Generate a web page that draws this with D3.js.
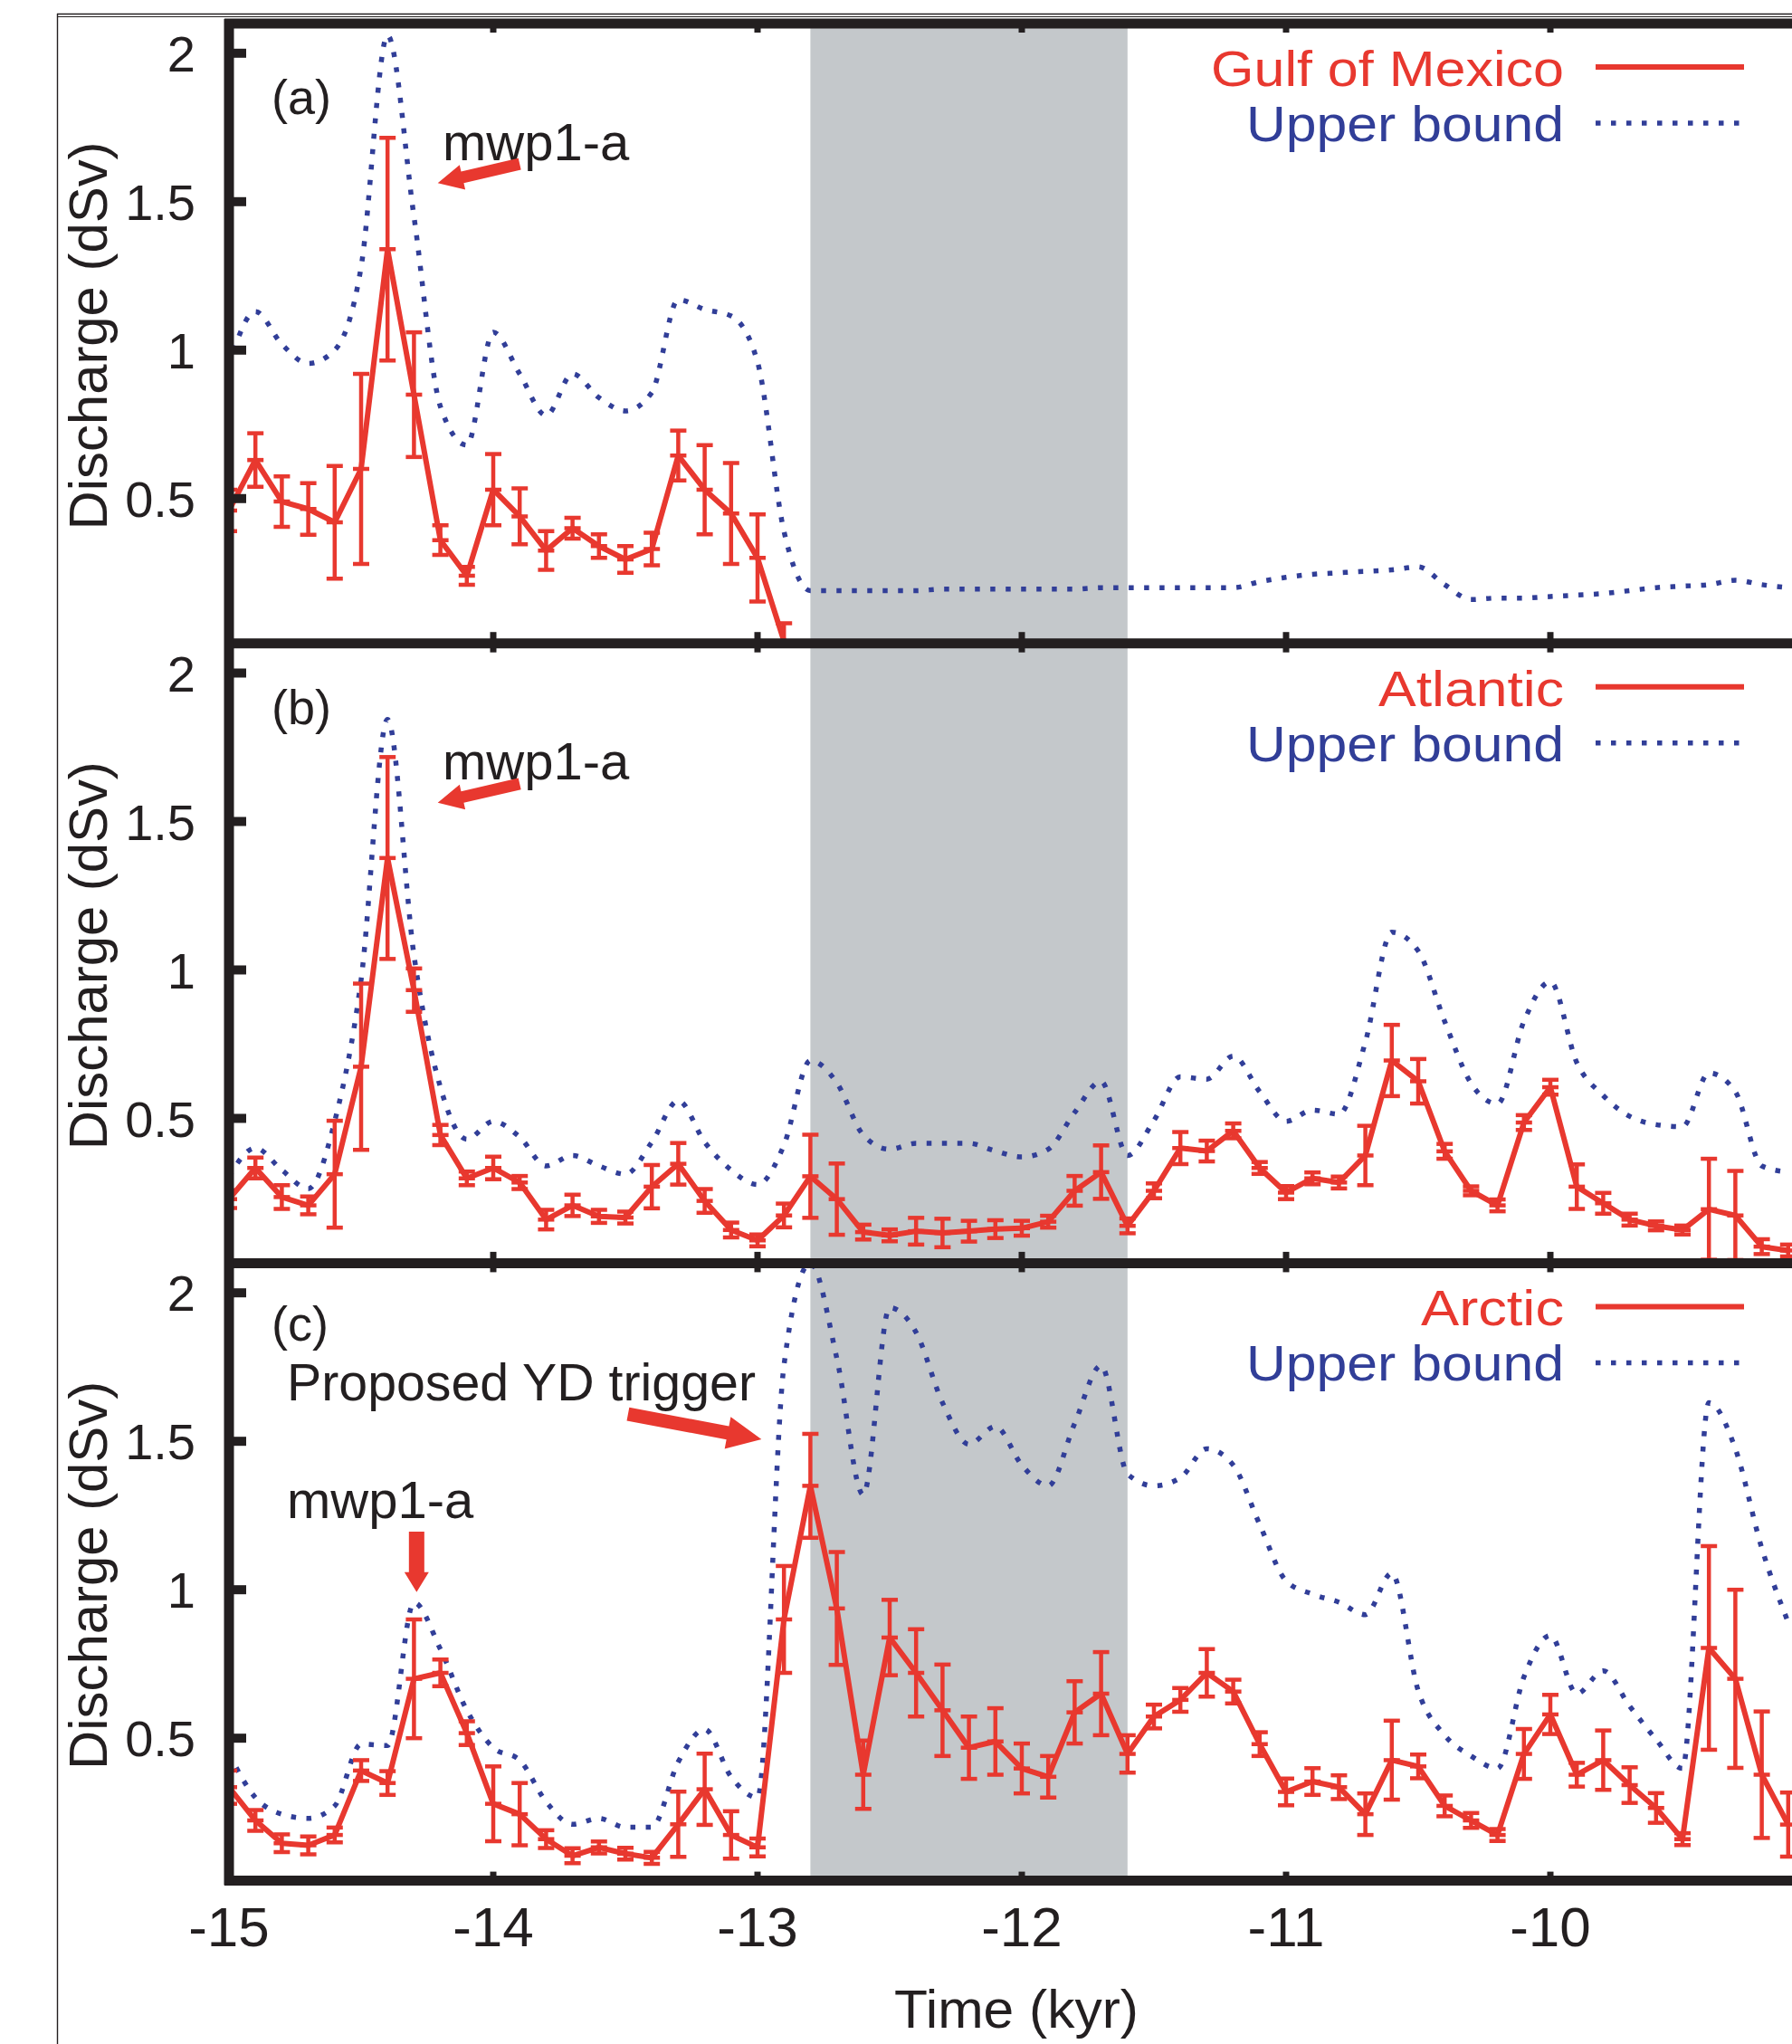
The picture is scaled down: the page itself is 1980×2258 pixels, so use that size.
<!DOCTYPE html>
<html>
<head>
<meta charset="utf-8">
<script src="https://cdn.jsdelivr.net/npm/d3@7"></script>
<style>
  body { margin: 0; background: #fff; }
  svg text { font-family: "Liberation Sans", Arial, sans-serif; }
</style>
</head>
<body>
<svg id="chart" width="1980" height="2258"></svg>
<script>
// time axis (kyr), one sample every 0.1 kyr
var time = [-15.0,-14.9,-14.8,-14.7,-14.6,-14.5,-14.4,-14.3,-14.2,-14.1,
            -14.0,-13.9,-13.8,-13.7,-13.6,-13.5,-13.4,-13.3,-13.2,-13.1,
            -13.0,-12.9,-12.8,-12.7,-12.6,-12.5,-12.4,-12.3,-12.2,-12.1,
            -12.0,-11.9,-11.8,-11.7,-11.6,-11.5,-11.4,-11.3,-11.2,-11.1,
            -11.0,-10.9,-10.8,-10.7,-10.6,-10.5,-10.4,-10.3,-10.2,-10.1,
            -10.0,-9.9,-9.8,-9.7,-9.6,-9.5,-9.4,-9.3,-9.2,-9.1];

// (a) Gulf of Mexico (stops at -12.9)
var gulf    = [0.46,0.63,0.49,0.465,0.42,0.60,1.34,0.85,0.36,0.24,
               0.53,0.44,0.325,0.40,0.34,0.295,0.33,0.645,0.53,0.45,
               0.30,0.02];
var gulfErr = [0.07,0.09,0.085,0.087,0.19,0.32,0.375,0.21,0.05,0.03,
               0.12,0.094,0.065,0.035,0.04,0.045,0.055,0.084,0.15,0.17,
               0.147,0.06];
var gulfUpper = [0.95,1.13,1.02,0.955,1.0,1.28,2.06,1.45,0.81,0.68,
                 1.06,0.92,0.78,0.92,0.84,0.795,0.857,1.17,1.137,1.115,
                 0.96,0.39,0.19,0.19,0.19,0.19,0.19,0.195,0.195,0.195,
                 0.195,0.195,0.195,0.2,0.2,0.2,0.2,0.2,0.2,0.22,
                 0.235,0.245,0.25,0.255,0.26,0.27,0.21,0.16,0.165,0.165,
                 0.17,0.175,0.18,0.19,0.2,0.205,0.21,0.225,0.21,0.2];

// (b) Atlantic
var atl    = [0.228,0.333,0.235,0.207,0.312,0.674,1.377,0.932,0.444,0.298,
              0.333,0.284,0.159,0.207,0.17,0.166,0.27,0.347,0.222,0.124,
              0.089,0.173,0.305,0.228,0.117,0.106,0.12,0.114,0.12,0.127,
              0.13,0.152,0.256,0.319,0.138,0.256,0.40,0.39,0.458,0.333,
              0.25,0.298,0.284,0.375,0.695,0.625,0.389,0.256,0.207,0.486,
              0.605,0.27,0.214,0.159,0.138,0.124,0.194,0.173,0.068,0.055];
var atlErr = [0.03,0.035,0.04,0.03,0.18,0.28,0.34,0.073,0.034,0.023,
              0.038,0.022,0.033,0.036,0.022,0.02,0.073,0.07,0.04,0.025,
              0.02,0.04,0.14,0.12,0.025,0.02,0.045,0.048,0.035,0.03,
              0.025,0.02,0.05,0.09,0.025,0.025,0.054,0.035,0.025,0.02,
              0.022,0.02,0.02,0.1,0.12,0.075,0.025,0.015,0.02,0.025,
              0.025,0.075,0.035,0.02,0.015,0.015,0.17,0.15,0.025,0.02];
var atlUpper = [0.305,0.40,0.326,0.263,0.49,0.967,1.844,1.05,0.605,0.43,
                0.49,0.437,0.34,0.375,0.34,0.312,0.42,0.56,0.42,0.326,
                0.277,0.41,0.695,0.62,0.444,0.396,0.416,0.416,0.416,0.39,
                0.37,0.396,0.52,0.625,0.375,0.493,0.64,0.632,0.71,0.59,
                0.49,0.528,0.514,0.757,1.127,1.064,0.827,0.618,0.549,0.827,
                0.96,0.688,0.577,0.507,0.479,0.472,0.653,0.59,0.34,0.319];

// (c) Arctic
var arc    = [0.335,0.223,0.146,0.139,0.174,0.391,0.349,0.70,0.72,0.517,
              0.279,0.244,0.16,0.104,0.132,0.111,0.097,0.21,0.328,0.174,
              0.132,0.90,1.35,0.937,0.377,0.839,0.72,0.594,0.468,0.489,
              0.398,0.37,0.587,0.65,0.447,0.573,0.629,0.72,0.657,0.48,
              0.319,0.354,0.335,0.244,0.426,0.405,0.272,0.223,0.174,0.447,
              0.58,0.377,0.426,0.342,0.265,0.16,0.804,0.70,0.377,0.209];
var arcErr = [0.056,0.035,0.03,0.03,0.025,0.035,0.04,0.2,0.045,0.04,
              0.126,0.105,0.03,0.025,0.02,0.02,0.02,0.11,0.12,0.08,
              0.03,0.18,0.175,0.19,0.115,0.127,0.147,0.154,0.105,0.112,
              0.084,0.07,0.105,0.14,0.063,0.04,0.04,0.08,0.04,0.04,
              0.045,0.045,0.04,0.07,0.133,0.04,0.035,0.025,0.02,0.084,
              0.066,0.04,0.1,0.06,0.05,0.02,0.343,0.3,0.213,0.108];
var arcUpper = [0.447,0.30,0.244,0.23,0.272,0.48,0.475,0.957,0.80,0.594,
                0.468,0.426,0.286,0.21,0.23,0.20,0.20,0.42,0.53,0.37,
                0.30,1.755,2.1,1.78,1.32,1.95,1.867,1.63,1.49,1.55,
                1.42,1.35,1.56,1.755,1.39,1.35,1.377,1.475,1.42,1.22,
                1.03,0.985,0.958,0.916,1.056,0.66,0.51,0.44,0.398,0.706,
                0.846,0.65,0.727,0.608,0.496,0.398,1.63,1.475,1.14,0.89];

var xTicks = [-15, -14, -13, -12, -11, -10, -9];
var yTicks = [0.5, 1, 1.5, 2];
var ydBand = [-12.8, -11.6];

var panels = [
  {tag: "(a)", name: "Gulf of Mexico", nameW: 390, val: gulf, err: gulfErr, upper: gulfUpper, tagY: 126},
  {tag: "(b)", name: "Atlantic", nameW: 205, val: atl, err: atlErr, upper: atlUpper, tagY: 800},
  {tag: "(c)", name: "Arctic", nameW: 158, val: arc, err: arcErr, upper: arcUpper, tagY: 1481}
];

var RED = "#e8382f", BLUE = "#313e98", INK = "#231f20";
var left = 253, panelH = 682.2, step = 684.7, top0 = 26;

var svg = d3.select("#chart");
var x = d3.scaleLinear().domain([-15, -9]).range([left, 2005]);

// outer thin frame
svg.append("line").attr("x1", 63).attr("x2", 1980).attr("y1", 15.5).attr("y2", 15.5)
  .attr("stroke", INK).attr("stroke-width", 1.4);
svg.append("line").attr("x1", 63).attr("x2", 1980).attr("y1", 18.5).attr("y2", 18.5)
  .attr("stroke", INK).attr("stroke-width", 1);
svg.append("line").attr("x1", 63.5).attr("x2", 63.5).attr("y1", 15).attr("y2", 2258)
  .attr("stroke", INK).attr("stroke-width", 1.4);

// Younger Dryas band across all panels
var bottomAll = top0 + 2 * step + panelH;
svg.append("rect")
  .attr("x", x(ydBand[0])).attr("width", x(ydBand[1]) - x(ydBand[0]))
  .attr("y", top0).attr("height", bottomAll - top0)
  .attr("fill", "#c4c8cb");

function arrow(g, x1, y1, x2, y2, sw, hw, hl) {
  var dx = x2 - x1, dy = y2 - y1, L = Math.hypot(dx, dy);
  var ux = dx / L, uy = dy / L, px = -uy, py = ux;
  var bx = x2 - ux * hl, by = y2 - uy * hl;
  var pts = [
    [x1 + px * sw / 2, y1 + py * sw / 2], [bx + px * sw / 2, by + py * sw / 2],
    [bx + px * hw / 2, by + py * hw / 2], [x2, y2],
    [bx - px * hw / 2, by - py * hw / 2], [bx - px * sw / 2, by - py * sw / 2],
    [x1 - px * sw / 2, y1 - py * sw / 2]
  ];
  g.append("polygon").attr("points", pts.map(function (p) { return p.join(","); }).join(" "))
    .attr("fill", RED);
}

panels.forEach(function (p, i) {
  var top = top0 + i * step;
  var y = d3.scaleLinear().domain([0.02, 2.1]).range([top + panelH, top]);
  p.y = y;
  var g = svg.append("g");

  svg.append("clipPath").attr("id", "clip" + i)
    .append("rect").attr("x", left).attr("y", top).attr("width", 1980 - left).attr("height", panelH);
  var plot = g.append("g").attr("clip-path", "url(#clip" + i + ")");

  // upper bound, dotted
  var upLine = d3.line().x(function (d, k) { return x(time[k]); }).y(function (d) { return y(d); })
    .curve(d3.curveMonotoneX);
  plot.append("path").datum(p.upper).attr("d", upLine)
    .attr("fill", "none").attr("stroke", BLUE).attr("stroke-width", 5.5)
    .attr("stroke-dasharray", "5.5,11.5");

  // discharge, solid with error bars
  var valLine = d3.line().x(function (d, k) { return x(time[k]); }).y(function (d) { return y(d); });
  plot.append("path").datum(p.val).attr("d", valLine)
    .attr("fill", "none").attr("stroke", RED).attr("stroke-width", 6).attr("stroke-linejoin", "round");

  var bars = plot.selectAll(".eb").data(p.val).enter().append("g")
    .attr("stroke", RED).attr("stroke-width", 4.5);
  bars.append("line")
    .attr("x1", function (d, k) { return x(time[k]); }).attr("x2", function (d, k) { return x(time[k]); })
    .attr("y1", function (d, k) { return y(d - p.err[k]); }).attr("y2", function (d, k) { return y(d + p.err[k]); });
  [-1, 0, 1].forEach(function (s) {
    bars.append("line")
      .attr("x1", function (d, k) { return x(time[k]) - 9; }).attr("x2", function (d, k) { return x(time[k]) + 9; })
      .attr("y1", function (d, k) { return y(d + s * p.err[k]); }).attr("y2", function (d, k) { return y(d + s * p.err[k]); });
  });

  // y ticks and labels
  yTicks.forEach(function (t) {
    g.append("line").attr("x1", left).attr("x2", left + 19).attr("y1", y(t)).attr("y2", y(t))
      .attr("stroke", INK).attr("stroke-width", 10);
    g.append("text").attr("x", 216).attr("y", y(t)).attr("dy", "0.36em")
      .attr("text-anchor", "end").attr("font-size", 56).attr("fill", INK).text(t);
  });

  // small x ticks on top and bottom borders
  xTicks.slice(1).forEach(function (t) {
    g.append("line").attr("x1", x(t)).attr("x2", x(t)).attr("y1", top).attr("y2", top + 10)
      .attr("stroke", INK).attr("stroke-width", 7);
    g.append("line").attr("x1", x(t)).attr("x2", x(t)).attr("y1", top + panelH - 10).attr("y2", top + panelH)
      .attr("stroke", INK).attr("stroke-width", 7);
  });

  // y axis title
  g.append("text").attr("transform", "translate(118," + (top + 345) + ") rotate(-90)")
    .attr("text-anchor", "middle").attr("font-size", 60).attr("fill", INK)
    .attr("textLength", 429).attr("lengthAdjust", "spacingAndGlyphs")
    .text("Discharge (dSv)");

  // panel tag
  g.append("text").attr("x", 300).attr("y", p.tagY).attr("font-size", 54).attr("fill", INK).text(p.tag);

  // legend
  g.append("text").attr("x", 1728).attr("y", top + 69).attr("text-anchor", "end")
    .attr("font-size", 55).attr("fill", RED)
    .attr("textLength", p.nameW).attr("lengthAdjust", "spacingAndGlyphs").text(p.name);
  g.append("line").attr("x1", 1763).attr("x2", 1927).attr("y1", top + 48).attr("y2", top + 48)
    .attr("stroke", RED).attr("stroke-width", 6);
  g.append("text").attr("x", 1728).attr("y", top + 130).attr("text-anchor", "end")
    .attr("font-size", 55).attr("fill", BLUE)
    .attr("textLength", 351).attr("lengthAdjust", "spacingAndGlyphs").text("Upper bound");
  g.append("line").attr("x1", 1763).attr("x2", 1927).attr("y1", top + 110).attr("y2", top + 110)
    .attr("stroke", BLUE).attr("stroke-width", 5.5).attr("stroke-dasharray", "5.5,11.5");
});

// frame: thick borders
for (var i = 0; i < 3; i++) {
  var yy = top0 + i * step;
  svg.append("line").attr("x1", left - 5).attr("x2", 1980).attr("y1", yy).attr("y2", yy)
    .attr("stroke", INK).attr("stroke-width", 11);
}
svg.append("line").attr("x1", left - 5).attr("x2", 1980).attr("y1", bottomAll).attr("y2", bottomAll)
  .attr("stroke", INK).attr("stroke-width", 11);
svg.append("line").attr("x1", left).attr("x2", left).attr("y1", top0 - 5).attr("y2", bottomAll + 5)
  .attr("stroke", INK).attr("stroke-width", 11);

// x tick labels and title
xTicks.forEach(function (t) {
  svg.append("text").attr("x", x(t)).attr("y", 2150).attr("text-anchor", "middle")
    .attr("font-size", 62).attr("fill", INK).text(t);
});
svg.append("text").attr("x", 1123).attr("y", 2240).attr("text-anchor", "middle")
  .attr("font-size", 60).attr("fill", INK).attr("textLength", 270).attr("lengthAdjust", "spacingAndGlyphs")
  .text("Time (kyr)");

// annotations
var ya = panels[0].y, yb = panels[1].y, yc = panels[2].y;
svg.append("text").attr("x", 489).attr("y", 177).attr("font-size", 58).attr("fill", INK).text("mwp1-a");
arrow(svg, x(-13.90), ya(1.627), x(-14.21), ya(1.563), 13, 28, 28);
svg.append("text").attr("x", 489).attr("y", 861).attr("font-size", 58).attr("fill", INK).text("mwp1-a");
arrow(svg, x(-13.90), yb(1.627), x(-14.21), yb(1.563), 13, 28, 28);

svg.append("text").attr("x", 317).attr("y", 1547).attr("font-size", 57).attr("fill", INK)
  .attr("textLength", 518).attr("lengthAdjust", "spacingAndGlyphs").text("Proposed YD trigger");
arrow(svg, x(-13.49), yc(1.592), x(-12.985), yc(1.507), 15, 36, 38);
svg.append("text").attr("x", 317).attr("y", 1677).attr("font-size", 58).attr("fill", INK).text("mwp1-a");
arrow(svg, x(-14.29), yc(1.196), x(-14.29), yc(0.992), 17, 27, 22);
</script>
</body>
</html>
